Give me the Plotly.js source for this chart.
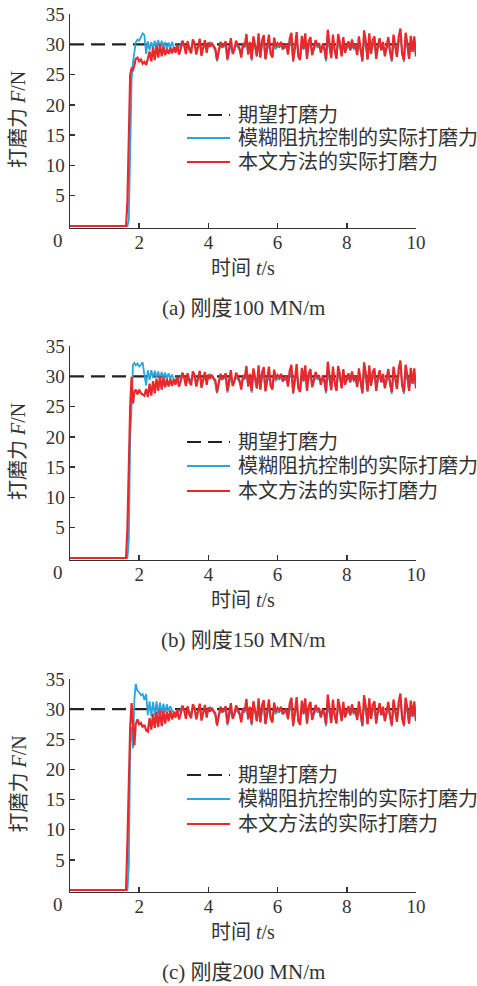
<!DOCTYPE html>
<html><head><meta charset="utf-8">
<script src="https://cdn.plot.ly/plotly-3.0.1.min.js"></script>
<style>html,body{margin:0;padding:0;background:#fff}#chart{width:477px;height:986px}</style>
</head><body><div id="chart"></div>
<script>
// ---- data ----
const desiredForce = 30;
const tDesired = [0, 10];
const xTicks = [2, 4, 6, 8, 10];
const yTicks = [5, 10, 15, 20, 25, 30, 35];

const tHead = [0, 1.62, 1.66, 1.70, 1.74, 1.78, 1.82, 1.86, 1.90, 1.95, 2.00, 2.05, 2.10, 2.15, 2.20, 2.25, 2.30, 2.35, 2.40, 2.45, 2.50, 2.55, 2.60, 2.65, 2.70, 2.75, 2.80, 2.85, 2.90, 2.95];

const redHeadA  = [0, 0, 4, 17, 25, 26, 25.8, 26.5, 27.6, 27.8, 27.2, 27.5, 26.8, 27.1, 26.6, 27.6, 28.8, 27.2, 29.5, 27.4, 29.8, 27.8, 30.0, 28.0, 29.6, 28.2, 29.2, 28.4, 29.4, 28.5];
const blueHeadA = [0, 0, 0, 1, 12, 24, 27, 29, 30.3, 30.8, 30.6, 31.2, 31.8, 31.5, 28.4, 30.5, 29.0, 30.4, 29.3, 30.6, 29.4, 30.7, 29.5, 30.6, 29.3, 30.4, 29.1, 30.3, 29.4, 30.4];

const redHeadB  = [0, 0, 5, 18, 25, 29.9, 25.5, 27.4, 27.8, 27.0, 27.8, 27.2, 27.0, 26.8, 27.9, 26.6, 28.8, 26.8, 29.2, 27.2, 29.6, 27.6, 30.0, 27.8, 29.8, 28.2, 29.5, 28.3, 29.6, 28.4];
const blueHeadB = [0, 0, 0, 3, 20, 25, 31.9, 32.2, 31.8, 32.1, 31.6, 31.9, 32.3, 30.2, 28.5, 31.0, 29.4, 31.0, 29.7, 30.9, 29.8, 30.8, 29.6, 30.7, 29.8, 30.6, 29.5, 30.5, 29.6, 30.3];

const redHeadC  = [0, 0, 8, 18, 27, 31.0, 27.0, 24.0, 27.5, 28.3, 27.5, 27.7, 27.0, 27.4, 26.5, 26.3, 28.5, 26.6, 29.2, 26.9, 29.6, 27.0, 29.8, 27.2, 29.7, 27.6, 29.6, 28.0, 29.8, 28.3];
const blueHeadC = [0, 0, 0, 4, 24, 27, 23.5, 31.5, 34.2, 33.0, 32.8, 32.3, 32.5, 31.5, 32.5, 29.0, 31.3, 28.8, 31.2, 29.0, 31.3, 29.2, 31.1, 29.3, 30.9, 29.5, 30.8, 29.6, 30.5, 29.8];

const tTail = [3.00,3.05,3.10,3.15,3.20,3.25,3.30,3.35,3.40,3.45,3.50,3.55,3.60,3.65,3.70,3.75,3.80,3.85,3.90,3.95,4.00,
4.05,4.10,4.15,4.20,4.25,4.30,4.35,4.40,4.45,4.50,4.55,4.60,4.65,4.70,4.75,4.80,4.85,4.90,4.95,5.00,
5.05,5.10,5.15,5.20,5.25,5.30,5.35,5.40,5.45,5.50,5.55,5.60,5.65,5.70,5.75,5.80,5.85,5.90,5.95,6.00,
6.05,6.10,6.15,6.20,6.25,6.30,6.35,6.40,6.45,6.50,6.55,6.60,6.65,6.70,6.75,6.80,6.85,6.90,6.95,7.00,
7.05,7.10,7.15,7.20,7.25,7.30,7.35,7.40,7.45,7.50,7.55,7.60,7.65,7.70,7.75,7.80,7.85,7.90,7.95,8.00,
8.05,8.10,8.15,8.20,8.25,8.30,8.35,8.40,8.45,8.50,8.55,8.60,8.65,8.70,8.75,8.80,8.85,8.90,8.95,9.00,
9.05,9.10,9.15,9.20,9.25,9.30,9.35,9.40,9.45,9.50,9.55,9.60,9.65,9.70,9.75,9.80,9.85,9.90,9.95,10.00];

const redTail = [29.5,28.6,29.9,28.3,29.2,30.6,29.8,28.4,30.5,29.1,28.5,
30.8,30.2,28.3,29.6,30.9,28.1,29.3,30.7,28.6,30.3,
29.6,30.2,29.7,29.3,27.4,29.1,30.4,29.6,29.9,30.5,
27.6,29.4,31.0,28.4,29.1,30.6,29.8,29.3,27.8,30.2,
29.7,31.7,28.3,30.4,27.6,31.3,29.8,28.0,31.8,27.8,
30.6,31.5,27.5,29.2,31.6,28.4,27.8,31.1,29.6,30.2,
29.8,30.4,29.2,29.6,30.1,28.3,30.9,31.9,27.3,29.5,
32.0,28.0,27.4,31.4,29.3,31.8,27.6,30.5,31.2,28.2,
29.3,30.7,29.8,30.2,28.6,30.0,29.4,27.5,32.4,30.1,
27.7,31.6,29.0,27.6,31.7,30.3,28.0,31.2,28.6,29.7,
30.5,29.0,30.8,29.4,30.0,28.2,31.3,29.2,27.3,32.3,
30.4,27.5,31.8,28.4,30.7,31.3,27.6,29.8,31.0,29.0,
30.4,28.0,29.6,31.2,28.8,27.4,31.6,30.0,27.9,31.2,
32.6,28.4,27.4,31.9,30.2,27.6,31.4,28.8,31.3,28.0];

const blueTail = [29.5,29.3,29.8,29.6,29.9,30.5,29.9,29.2,30.0,29.5,29.2,
30.1,29.9,29.1,29.6,30.2,29.0,29.4,29.9,29.2,29.8,
30.3,30.0,29.6,29.0,27.2,28.9,29.8,29.5,29.6,29.9,
27.3,29.0,30.0,28.8,29.2,29.9,29.5,29.1,28.2,29.6,
29.5,30.6,28.4,29.8,27.3,30.2,29.5,28.0,30.5,27.9,
29.7,30.3,27.6,29.0,30.4,28.6,28.0,30.0,29.3,29.6,
29.5,29.9,29.2,29.4,29.6,28.6,29.9,30.6,27.1,29.3,
30.7,28.2,27.6,30.2,29.1,30.4,27.7,29.8,30.1,28.4,
29.2,29.9,29.5,29.6,28.8,29.6,29.1,27.2,30.8,29.5,
27.9,30.3,28.9,27.7,30.4,29.7,28.2,30.1,28.8,29.4,
29.8,29.0,29.9,29.2,29.5,28.4,30.1,29.0,27.1,30.8,
29.8,27.5,30.3,28.5,29.7,30.1,27.8,29.4,29.9,29.0,
29.7,28.2,29.4,30.2,28.8,27.1,30.3,29.6,28.0,30.4,
30.9,28.5,27.1,30.4,29.6,27.6,30.1,28.7,29.9,28.2];

const captions = ['(a) 刚度100 MN/m', '(b) 刚度150 MN/m', '(c) 刚度200 MN/m'];
const legendNames = ['期望打磨力', '模糊阻抗控制的实际打磨力', '本文方法的实际打磨力'];

// ---- layout helpers ----
const W = 477, H = 986;
const BLUE = '#2aa6df', RED = '#e8282b', DASH = '#222222';
const SERIF = 'Liberation Serif, Noto Sans CJK SC, serif';
const px = v => v / W;
const py = v => 1 - v / H;

const panels = [
  {red: redHeadA, blue: blueHeadA, top: 14,  zero: 226, legRows: [115, 138, 162]},
  {red: redHeadB, blue: blueHeadB, top: 346, zero: 558, legRows: [442, 466, 491]},
  {red: redHeadC, blue: blueHeadC, top: 679, zero: 890, legRows: [775, 799, 824]}
];

const traces = [];
const layout = {
  width: W, height: H, margin: {l: 0, r: 0, t: 0, b: 0},
  paper_bgcolor: '#fff', plot_bgcolor: 'rgba(0,0,0,0)',
  showlegend: false, annotations: [], shapes: []
};

const tAll = tHead.concat(tTail);
const X0 = 70, X1 = 416, YMIN = -0.25;

panels.forEach((p, i) => {
  const sfx = i === 0 ? '' : String(i + 1);
  const xa = 'x' + sfx, ya = 'y' + sfx;
  const scale = (p.zero - p.top) / 35;
  const bottomPx = p.zero - YMIN * scale;
  traces.push({x: tDesired, y: [desiredForce, desiredForce], xaxis: xa, yaxis: ya, mode: 'lines',
    line: {color: DASH, width: 2.2, dash: '14px,7px'}, hoverinfo: 'skip'});
  traces.push({x: tAll, y: p.blue.concat(blueTail), xaxis: xa, yaxis: ya, mode: 'lines',
    line: {color: BLUE, width: 1.8}, hoverinfo: 'skip'});
  traces.push({x: tAll, y: p.red.concat(redTail), xaxis: xa, yaxis: ya, mode: 'lines',
    line: {color: RED, width: 2.2}, hoverinfo: 'skip'});

  const common = {showgrid: false, zeroline: false, showline: true, linecolor: '#333', linewidth: 1.5,
    ticks: 'inside', ticklen: 5, tickwidth: 1.5, tickcolor: '#333', layer: 'below traces',
    tickfont: {family: SERIF, size: 19, color: '#333'}, fixedrange: true};
  layout['xaxis' + sfx] = Object.assign({}, common, {domain: [px(X0), px(X1)], range: [0, 10],
    tickvals: xTicks, anchor: ya, ticklabelstandoff: -3});
  layout['yaxis' + sfx] = Object.assign({}, common, {domain: [py(bottomPx), py(p.top)], range: [YMIN, 35],
    tickvals: yTicks, anchor: xa});

  const font = {family: SERIF, size: 19, color: '#333'};
  layout.annotations.push({xref: 'paper', yref: 'paper', x: px(58), y: py(p.zero + 14), text: '0',
    showarrow: false, xanchor: 'center', yanchor: 'middle', font: font});
  layout.annotations.push({xref: 'paper', yref: 'paper', x: px(243), y: py(p.zero + 42), text: '时间 <i>t</i>/s',
    showarrow: false, xanchor: 'center', yanchor: 'middle', font: {family: SERIF, size: 20, color: '#333'}});
  layout.annotations.push({xref: 'paper', yref: 'paper', x: px(243), y: py(p.zero + 82), text: captions[i],
    showarrow: false, xanchor: 'center', yanchor: 'middle', font: {family: SERIF, size: 21, color: '#333'}});
  layout.annotations.push({xref: 'paper', yref: 'paper', x: px(18), y: py((p.top + p.zero) / 2),
    text: '打磨力 <i>F</i>/N', textangle: -90, showarrow: false, xanchor: 'center', yanchor: 'middle',
    font: {family: SERIF, size: 20, color: '#333'}});

  const legColors = [DASH, BLUE, RED];
  legendNames.forEach((name, k) => {
    const yy = py(p.legRows[k]);
    layout.shapes.push({type: 'line', xref: 'paper', yref: 'paper', x0: px(187), x1: px(230), y0: yy, y1: yy,
      line: {color: legColors[k], width: k === 0 ? 2.2 : 2, dash: k === 0 ? '14px,7px' : 'solid'}});
    layout.annotations.push({xref: 'paper', yref: 'paper', x: px(236), y: yy, text: name, showarrow: false,
      xanchor: 'left', yanchor: 'middle', font: {family: SERIF, size: 20, color: '#333'}});
  });
});

Plotly.newPlot('chart', traces, layout, {staticPlot: true, displayModeBar: false});
</script></body></html>
